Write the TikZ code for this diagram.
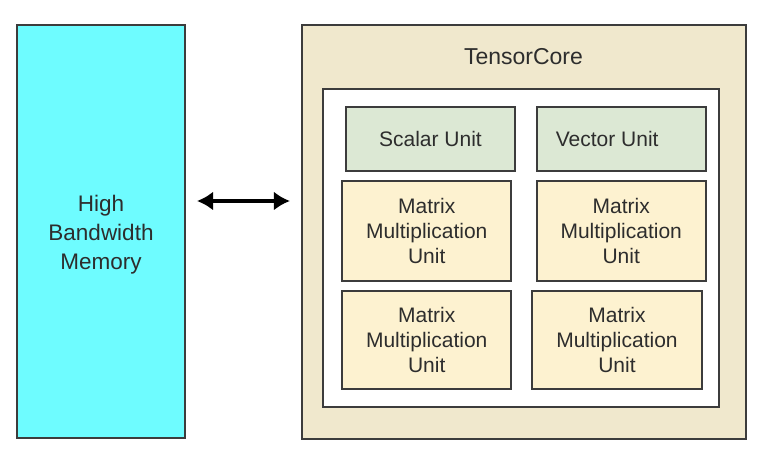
\documentclass[tikz,border=0pt]{standalone}
\usepackage{fontspec}
\setmainfont{Liberation Sans}
\usetikzlibrary{arrows.meta}
\definecolor{hbmcyan}{RGB}{110,252,255}
\definecolor{tcbeige}{RGB}{240,232,205}
\definecolor{unitgreen}{RGB}{220,232,212}
\definecolor{mmuyellow}{RGB}{253,242,208}
\definecolor{edge}{RGB}{60,60,60}
\definecolor{txt}{RGB}{45,45,45}
\tikzset{
  box/.style={draw=edge, line width=2pt, inner sep=0pt, text=txt, align=center},
  unitbox/.style={box, fill=unitgreen, font=\fontsize{21}{25}\selectfont},
  mmubox/.style={box, fill=mmuyellow, font=\fontsize{21}{25}\selectfont},
  link/.style={line width=3.5pt, draw=black, {Latex[length=16pt,width=19pt]}-{Latex[length=16pt,width=19pt]}}
}
\begin{document}
\begin{tikzpicture}[x=1pt,y=-1pt]
\useasboundingbox (0,0) rectangle (780,462);
\node[box, fill=hbmcyan, minimum width=168pt, minimum height=413pt, font=\fontsize{22.5}{29}\selectfont] (hbm) at (101,231.5) {\rule{0pt}{22pt}High\\Bandwidth\\Memory};
\node[box, fill=tcbeige, minimum width=443.7pt, minimum height=414pt] (tc) at (523.8,232) {};
\node[text=txt, font=\fontsize{23}{27}\selectfont] (tclabel) at (523.5,57) {TensorCore};
\node[box, fill=white, minimum width=396.3pt, minimum height=317.7pt] (inner) at (520.8,248) {};
\node[unitbox, minimum width=169pt, minimum height=64pt] (scalar) at (430.5,138.7) {Scalar Unit};
\node[unitbox, minimum width=169pt, minimum height=64pt] (vector) at (621.2,138.7) {Vector Unit\hspace{28pt}};
\node[mmubox, minimum width=168.7pt, minimum height=100.3pt] (mmu1) at (426.7,230.9) {Matrix\\Multiplication\\Unit};
\node[mmubox, minimum width=169pt, minimum height=100.3pt] (mmu2) at (621.2,230.9) {Matrix\\Multiplication\\Unit};
\node[mmubox, minimum width=168.7pt, minimum height=98pt] (mmu3) at (426.7,339.7) {Matrix\\Multiplication\\Unit};
\node[mmubox, minimum width=169.4pt, minimum height=98pt] (mmu4) at (617,339.7) {Matrix\\Multiplication\\Unit};
\draw[link, shorten <=11pt, shorten >=11pt] ([yshift=30.5pt]hbm.east) -- ([yshift=31pt]tc.west);
\end{tikzpicture}
\end{document}
